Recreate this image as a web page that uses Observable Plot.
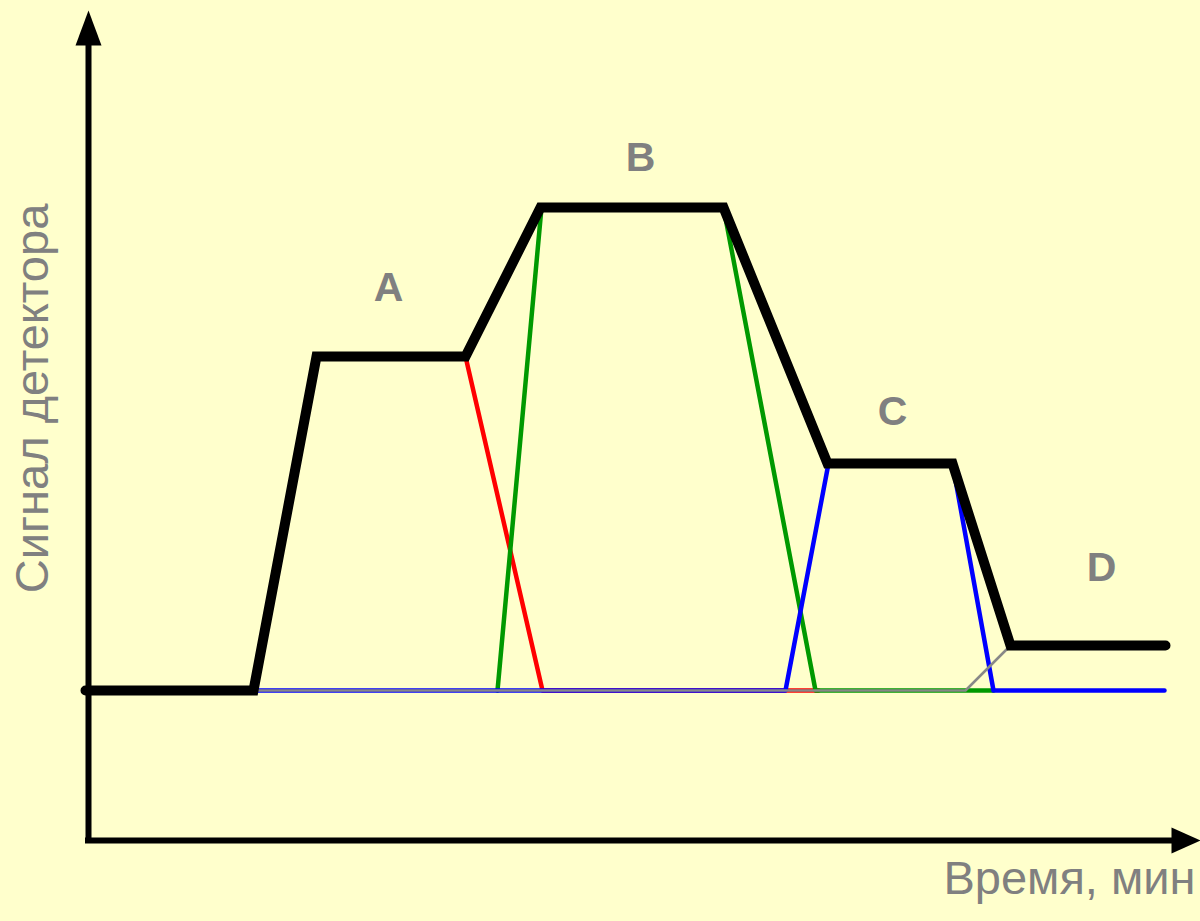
<!DOCTYPE html>
<html>
<head>
<meta charset="utf-8">
<script src="https://cdn.jsdelivr.net/npm/d3@7"></script>
<script src="https://cdn.jsdelivr.net/npm/@observablehq/plot@0.6"></script>
<style>
  html, body { margin: 0; padding: 0; background: #FFFFCC; }
  #chart { width: 1200px; height: 921px; overflow: hidden; }
</style>
</head>
<body>
<div id="chart"></div>
<script>
// ---- Data (time in min, detector signal in arbitrary units) ----
const totalTime   = [-0.03, 1.65, 2.28, 3.77, 4.52, 6.35, 7.39, 8.64, 9.22, 10.77];
const totalSignal = [0, 0, 6.68, 6.68, 9.66, 9.66, 4.54, 4.54, 0.9, 0.9];

const aTime   = [1.65, 2.28, 3.77, 4.54, 7.30];
const aSignal = [0, 6.68, 6.68, 0, 0];

const bTime   = [4.09, 4.53, 6.35, 7.27, 9.05];
const bSignal = [0, 9.66, 9.66, 0, 0];

const cTime   = [1.65, 6.97, 7.40, 8.64, 9.05, 10.76];
const cSignal = [0, 0, 4.54, 4.54, 0, 0];

const dTime   = [1.65, 8.77, 9.22];
const dSignal = [0, 0, 0.9];

const peakNames  = ["A", "B", "C", "D"];
const peakLabelT = [3.00, 5.52, 8.04, 10.13];
const peakLabelS = [8.05, 10.66, 5.58, 2.46];

const xTitle = "Время, мин";
const yTitle = "Сигнал детектора";

// axis extent
const tMin = 0, tMax = 11.12;
const sMin = -3, sMax = 13.6;

// ---- helpers ----
const toRows = (ts, ss) => ts.map((t, i) => ({t, s: ss[i]}));
const total = toRows(totalTime, totalSignal);
const peakA = toRows(aTime, aSignal);
const peakB = toRows(bTime, bSignal);
const peakC = toRows(cTime, cSignal);
const peakD = toRows(dTime, dSignal);
const labels = peakNames.map((n, i) => ({n, t: peakLabelT[i], s: peakLabelS[i]}));

const arrowUp = { draw(ctx) { ctx.moveTo(0, 0); ctx.lineTo(13, 35); ctx.lineTo(-13, 35); ctx.closePath(); } };
const arrowRight = { draw(ctx) { ctx.moveTo(0, 0); ctx.lineTo(-29, -13); ctx.lineTo(-29, 13); ctx.closePath(); } };

const font = "'Liberation Sans', Arial, sans-serif";

const chart = Plot.plot({
  width: 1200,
  height: 921,
  marginLeft: 88,
  marginRight: 12,
  marginTop: 10,
  marginBottom: 81,
  x: {domain: [tMin, 11], axis: null},
  y: {domain: [sMin, sMax], axis: null},
  style: {background: "#FFFFCC", fontFamily: font, overflow: "visible"},
  marks: [
    // axes
    Plot.ruleX([tMin], {y1: sMin, y2: sMax - 0.6, stroke: "black", strokeWidth: 6, strokeLinecap: "square"}),
    Plot.ruleY([sMin], {x1: tMin, x2: tMax - 0.25, stroke: "black", strokeWidth: 6, strokeLinecap: "square"}),
    Plot.dot([{t: tMin, s: sMax}], {x: "t", y: "s", symbol: arrowUp, fill: "black", stroke: null}),
    Plot.dot([{t: tMax, s: sMin}], {x: "t", y: "s", symbol: arrowRight, fill: "black", stroke: null}),
    // individual peaks
    Plot.line(peakA, {x: "t", y: "s", stroke: "#FF0000", strokeWidth: 4.5, curve: "linear"}),
    Plot.line(peakB, {x: "t", y: "s", stroke: "#009900", strokeWidth: 4.5, curve: "linear"}),
    Plot.line(peakC, {x: "t", y: "s", stroke: "#0000FF", strokeWidth: 4.5, curve: "linear"}),
    Plot.line(peakD, {x: "t", y: "s", stroke: "#888888", strokeWidth: 2.5, curve: "linear"}),
    // total signal
    Plot.line(total, {x: "t", y: "s", stroke: "black", strokeWidth: 10, strokeLinejoin: "miter", strokeMiterlimit: 2, curve: "linear"}),
    // peak labels
    Plot.text(labels, {x: "t", y: "s", text: "n", fill: "#808080", fontSize: 41, fontWeight: "bold"}),
    // axis titles
    Plot.text([yTitle], {frameAnchor: "left", textAnchor: "middle", rotate: -90, dx: -56, dy: -27, fill: "#808080", fontSize: 47}),
    Plot.text([xTitle], {frameAnchor: "bottom-right", textAnchor: "end", dx: 7, dy: 53, fill: "#808080", fontSize: 47})
  ]
});
document.getElementById("chart").appendChild(chart);
</script>
</body>
</html>
